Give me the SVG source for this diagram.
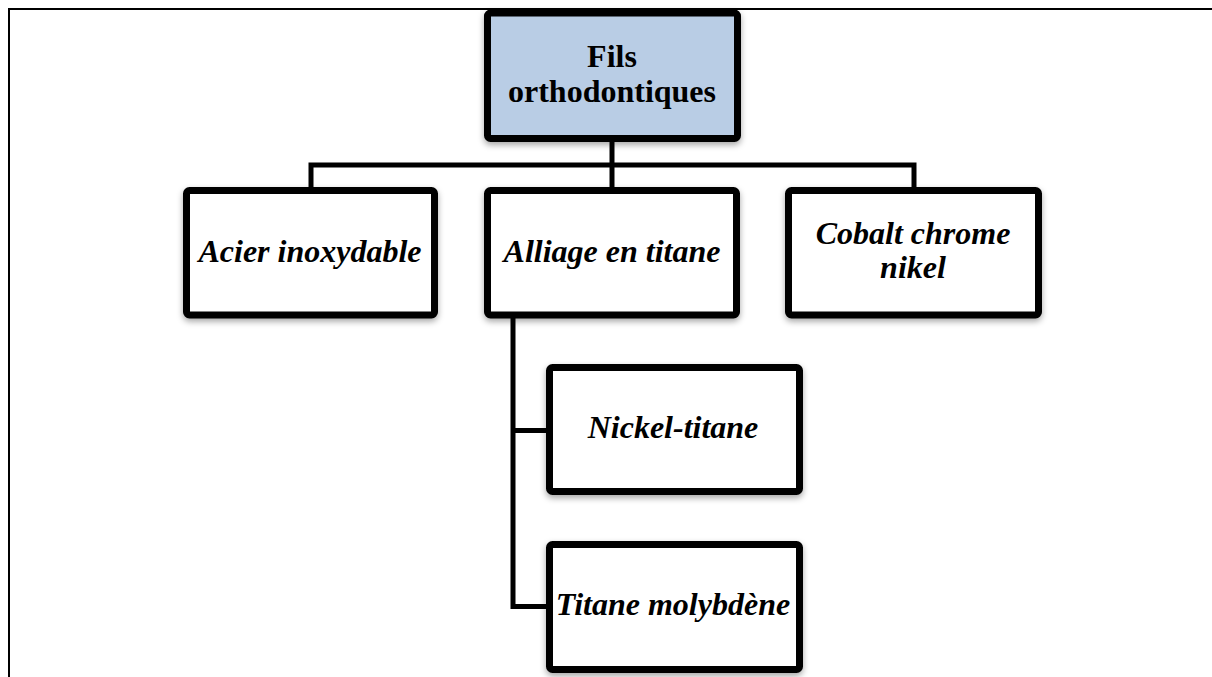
<svg xmlns="http://www.w3.org/2000/svg" width="1212" height="677" viewBox="0 0 1212 677">
<defs>
<style>
.box{fill:#ffffff;stroke:#000000;stroke-width:7;filter:url(#sh)}
.root{fill:#b9cde5}
.conn{fill:none;stroke:#000000;stroke-width:5}
.frame{fill:none;stroke:#000000;stroke-width:2}
.t{font-family:"Liberation Serif","Times New Roman",serif;font-size:32px;font-weight:bold;text-anchor:middle;fill:#000000}
.i{font-style:italic}
</style>
<filter id="sh" x="-10%" y="-10%" width="120%" height="130%">
<feDropShadow dx="0" dy="3" stdDeviation="3" flood-color="#000000" flood-opacity="0.35"/>
</filter>
</defs>
<path class="frame" d="M9,677 V9 H1212"/>
<g id="connectors">
<path class="conn" d="M612,142 V187"/>
<path class="conn" d="M311,187 V165 H914 V187"/>
<path class="conn" d="M513,318 V606.5 H546"/>
<path class="conn" d="M513,430.5 H546"/>
</g>
<g id="root">
<rect class="box root" x="487.5" y="13" width="250" height="125.5" rx="3"/>
<text class="t" x="612" y="67">Fils</text>
<text class="t" x="612" y="102">orthodontiques</text>
</g>
<g id="acier">
<rect class="box" x="186.5" y="190.5" width="248" height="124.5" rx="3"/>
<text class="t i" x="310" y="262">Acier inoxydable</text>
</g>
<g id="alliage">
<rect class="box" x="487.5" y="190.5" width="249" height="124.5" rx="3"/>
<text class="t i" x="612" y="262">Alliage en titane</text>
</g>
<g id="cobalt">
<rect class="box" x="788.5" y="190.5" width="250" height="124.5" rx="3"/>
<text class="t i" x="913" y="244">Cobalt chrome</text>
<text class="t i" x="913" y="278">nikel</text>
</g>
<g id="nickel">
<rect class="box" x="549.5" y="367.5" width="250" height="124" rx="3"/>
<text class="t i" x="673" y="438">Nickel-titane</text>
</g>
<g id="titane">
<rect class="box" x="549.5" y="544.5" width="250" height="125" rx="3"/>
<text class="t i" x="673" y="615">Titane molybdène</text>
</g>
</svg>
